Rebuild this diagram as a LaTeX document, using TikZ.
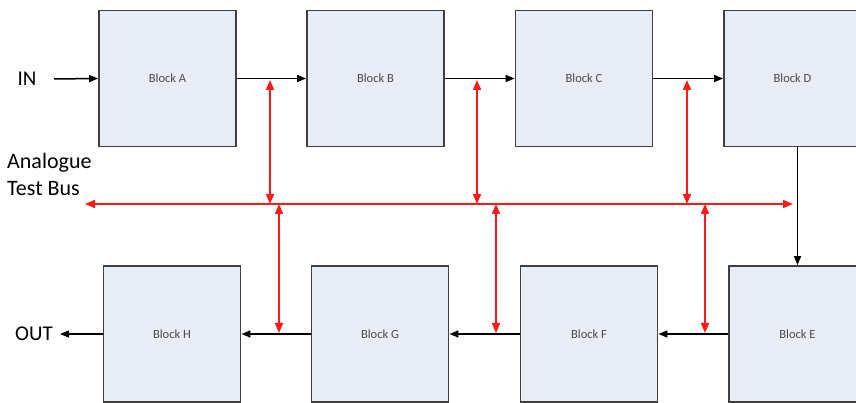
\documentclass[tikz,border=0pt]{standalone}
\usepackage{fontspec}
\setmainfont{Carlito}
\usetikzlibrary{arrows.meta}
\definecolor{blockfill}{HTML}{E7ECF5}
\definecolor{blockline}{HTML}{3F3F3F}
\definecolor{labelgray}{HTML}{4A4A4A}
\definecolor{busred}{HTML}{FF1A1A}
\begin{document}
\begin{tikzpicture}[x=1pt,y=1pt,
  blk/.style={draw=blockline,line width=1.8pt,fill=blockfill,minimum width=137pt,minimum height=136pt,inner sep=0pt,font=\fontsize{12.5}{14}\selectfont,text=labelgray},
  sig/.style={draw=black,line width=1.5pt,-{Triangle[length=9pt,width=7pt]}},
  bus/.style={draw=busred,line width=1.7pt,{Triangle[length=10pt,width=8pt]}-{Triangle[length=10pt,width=8pt]}},
  io/.style={font=\fontsize{21}{25}\selectfont,text=black,inner sep=0pt}]
\useasboundingbox (0,0) rectangle (856,403);
\clip (0,0) rectangle (856,403);
% top row
\node[blk] (A) at (167.5,324.5) {Block A};
\node[blk] (B) at (375.5,324.5) {Block B};
\node[blk] (C) at (584,324.5) {Block C};
\node[blk] (D) at (792.5,324.5) {Block D};
% bottom row
\node[blk] (H) at (172,69) {Block H};
\node[blk] (G) at (380,69) {Block G};
\node[blk] (F) at (589,69) {Block F};
\node[blk] (E) at (797.5,69) {Block E};
% labels
\node[io] (in) at (27,324) {IN};
\node[io] (out) at (34,69) {OUT};
\node[io,anchor=west,align=left,font=\fontsize{22}{27}\selectfont] (atb) at (7,229) {Analogue\\Test Bus};
% coordinates
\coordinate (inS) at (54,324);
\coordinate (outE) at (60,69);
\coordinate (busL) at (85,199);
\coordinate (busR) at (793,199);
% signal arrows
\draw[sig] (inS) -- (A.west);
\draw[sig] (A.east) -- (B.west);
\draw[sig] (B.east) -- (C.west);
\draw[sig] (C.east) -- (D.west);
\draw[sig] (D.south -| E.north) -- (E.north);
\draw[sig] (E.west) -- (F.east);
\draw[sig] (F.west) -- (G.east);
\draw[sig] (G.west) -- (H.east);
\draw[sig] (H.west) -- (outE);
% bus
\draw[bus] (busR) -- (busL);
\coordinate (t1) at (270,323); \coordinate (b1) at (270,199);
\coordinate (t2) at (477,323); \coordinate (b2) at (477,199);
\coordinate (t3) at (687,323); \coordinate (b3) at (687,199);
\coordinate (u1) at (279,199); \coordinate (d1) at (279,70);
\coordinate (u2) at (496,199); \coordinate (d2) at (496,70);
\coordinate (u3) at (705,199); \coordinate (d3) at (705,70);
\draw[bus] (t1) -- (b1);
\draw[bus] (t2) -- (b2);
\draw[bus] (t3) -- (b3);
\draw[bus] (u1) -- (d1);
\draw[bus] (u2) -- (d2);
\draw[bus] (u3) -- (d3);
\end{tikzpicture}
\end{document}
